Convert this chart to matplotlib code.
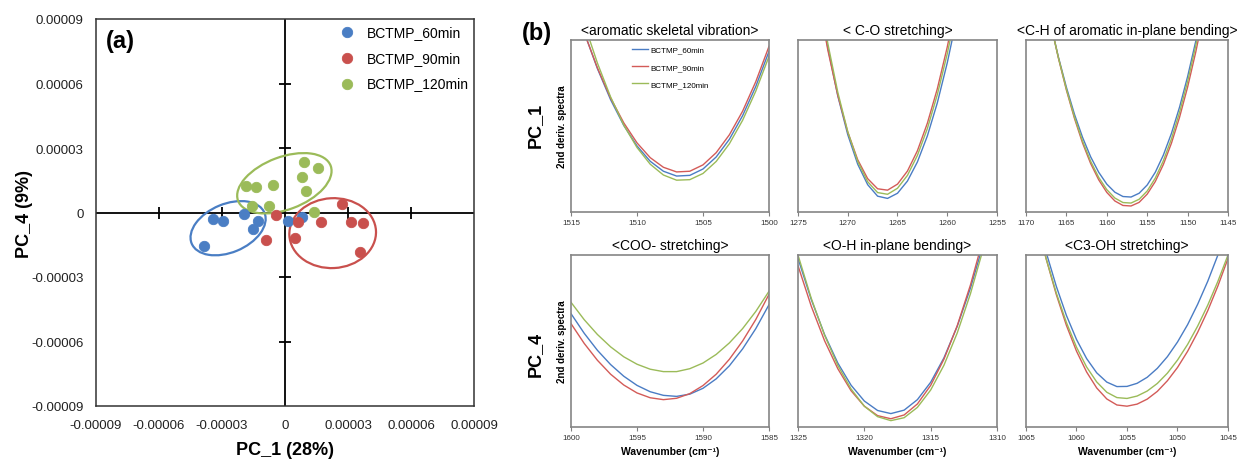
import numpy as np
import matplotlib
matplotlib.use('Agg')
import matplotlib.pyplot as plt
from matplotlib.patches import Ellipse

plt.rcParams['font.family'] = ['Liberation Sans', 'DejaVu Sans']

# ---- panel (a): PCA scores (units of 1e-5) ----
groups = ['BCTMP_60min', 'BCTMP_90min', 'BCTMP_120min']
blue_x = [-3.84, -3.41, -2.97, -1.94, -1.29, -1.51, 0.13, 0.79]
blue_y = [-1.55, -0.28, -0.39, -0.08, -0.40, -0.77, -0.39, -0.22]
red_x = [-0.43, -0.90, 0.60, 0.48, 1.71, 2.70, 3.14, 3.73, 3.57]
red_y = [-0.11, -1.27, -0.46, -1.19, -0.45, 0.40, -0.45, -0.50, -1.84]
green_x = [-1.86, -1.38, -0.56, -1.59, -0.75, 0.90, 1.59, 0.83, 0.98, 1.38]
green_y = [1.25, 1.18, 1.29, 0.28, 0.28, 2.37, 2.09, 1.67, 1.01, 0.02]
pca_ticks = [-9, -6, -3, 0, 3, 6, 9]
pca_ticklabels = ['-0.00009', '-0.00006', '-0.00003', '0', '0.00003', '0.00006', '0.00009']

# ---- panel (b): 2nd derivative spectra (relative height, 0-100) ----
aro_wn = [1514, 1513, 1512, 1511, 1510, 1509, 1508, 1507, 1506, 1505, 1504, 1503, 1502, 1501, 1500]
aro_60 = [104.5, 83.4, 65.3, 50.3, 38.4, 29.5, 23.7, 20.9, 21.3, 25.0, 32.0, 42.3, 56.0, 73.0, 93.4]
aro_90 = [104.3, 83.8, 66.3, 51.8, 40.2, 31.6, 26.0, 23.3, 23.7, 27.4, 34.5, 44.9, 58.6, 75.8, 96.3]
aro_120 = [109.6, 86.6, 66.9, 50.5, 37.5, 27.8, 21.5, 18.5, 18.8, 22.4, 29.4, 39.7, 53.3, 70.3, 90.5]

co_wn = [1273, 1272, 1271, 1270, 1269, 1268, 1267, 1266, 1265, 1264, 1263, 1262, 1261, 1260, 1259]
co_60 = [128.5, 95.4, 67.5, 45.0, 27.8, 15.9, 9.2, 7.9, 10.9, 18.0, 29.1, 44.2, 63.4, 86.7, 113.9]
co_90 = [125.6, 94.1, 67.8, 46.5, 30.4, 19.4, 13.5, 12.7, 16.2, 23.8, 35.6, 51.6, 71.6, 95.9, 124.2]
co_120 = [131.7, 97.9, 69.6, 46.7, 29.4, 17.6, 11.3, 10.3, 13.8, 21.3, 32.9, 48.5, 68.2, 92.0, 119.8]

ch_wn = [1167, 1166, 1165, 1164, 1163, 1162, 1161, 1160, 1159, 1158,
         1157, 1156, 1155, 1154, 1153, 1152, 1151, 1150, 1149, 1148]
ch_60 = [110.3, 90.3, 72.5, 56.8, 43.4, 32.1, 23.1, 16.2, 11.5, 9.0,
         8.7, 10.9, 15.7, 23.1, 33.1, 45.7, 60.9, 78.7, 99.1, 122.1]
ch_90 = [110.8, 89.7, 70.9, 54.4, 40.1, 28.2, 18.7, 11.4, 6.4, 3.8,
         3.5, 5.6, 10.4, 17.7, 27.6, 40.0, 55.0, 72.6, 92.8, 115.5]
ch_120 = [110.7, 89.9, 71.4, 55.2, 41.2, 29.5, 20.1, 13.0, 8.1, 5.5,
          5.2, 7.4, 12.2, 19.7, 29.8, 42.5, 57.9, 75.8, 96.4, 119.7]

coo_wn = [1600, 1599, 1598, 1597, 1596, 1595, 1594, 1593, 1592, 1591, 1590, 1589, 1588, 1587, 1586, 1585]
coo_60 = [65.9, 54.5, 44.6, 36.3, 29.5, 24.2, 20.5, 18.4, 17.8, 19.1, 22.5, 28.0, 35.6, 45.4, 57.2, 71.1]
coo_90 = [60.1, 48.6, 38.8, 30.7, 24.4, 19.8, 17.0, 15.9, 16.7, 19.4, 24.1, 30.7, 39.4, 50.0, 62.5, 77.1]
coo_120 = [72.5, 62.4, 53.8, 46.6, 40.8, 36.5, 33.6, 32.2, 32.2, 33.9, 37.2, 42.2, 48.9, 57.2, 67.2, 78.9]

oh_wn = [1325, 1324, 1323, 1322, 1321, 1320, 1319, 1318, 1317, 1316, 1315, 1314, 1313, 1312, 1311]
oh_60 = [98.0, 74.1, 53.8, 37.2, 24.3, 15.1, 9.6, 7.8, 9.8, 15.9, 26.0, 40.2, 58.5, 80.8, 107.2]
oh_90 = [93.8, 70.2, 50.2, 33.9, 21.1, 12.1, 6.6, 4.8, 7.0, 13.4, 24.2, 39.4, 58.8, 82.6, 110.6]
oh_120 = [100.0, 74.8, 53.4, 35.8, 22.1, 12.1, 6.0, 3.7, 5.4, 11.4, 21.5, 35.9, 54.6, 77.5, 104.6]

c3_wn = [1064, 1063, 1062, 1061, 1060, 1059, 1058, 1057, 1056, 1055,
         1054, 1053, 1052, 1051, 1050, 1049, 1048, 1047, 1046, 1045]
c3_60 = [124.1, 101.5, 81.8, 64.9, 50.9, 39.8, 31.5, 26.1, 23.5, 23.6,
         25.4, 28.9, 34.1, 40.9, 49.4, 59.5, 71.4, 84.8, 100.0, 116.8]
c3_90 = [121.4, 97.7, 77.0, 59.1, 44.1, 32.0, 22.7, 16.3, 12.8, 12.1,
         13.3, 16.2, 20.7, 26.9, 34.6, 44.0, 55.1, 67.7, 82.0, 98.0]
c3_120 = [120.5, 97.8, 77.9, 60.8, 46.4, 34.9, 26.2, 20.2, 17.1, 16.6,
          18.0, 20.9, 25.3, 31.3, 38.9, 48.0, 58.7, 70.9, 84.7, 100.0]

titles = ['<aromatic skeletal vibration>', '< C-O stretching>', '<C-H of aromatic in-plane bending>',
          '<COO- stretching>', '<O-H in-plane bending>', '<C3-OH stretching>']
wn_ranges = [(1515, 1500), (1275, 1255), (1170, 1145), (1600, 1585), (1325, 1310), (1065, 1045)]
spectra = [(aro_wn, aro_60, aro_90, aro_120), (co_wn, co_60, co_90, co_120),
           (ch_wn, ch_60, ch_90, ch_120), (coo_wn, coo_60, coo_90, coo_120),
           (oh_wn, oh_60, oh_90, oh_120), (c3_wn, c3_60, c3_90, c3_120)]

W, H = 1238, 460
dot_colors = ['#4A7EC4', '#C9504D', '#9BBB59']
line_colors = ['#4A7CC4', '#D35B58', '#9BBB59']


def box(l, t, r, b):
    return [l / W, 1 - b / H, (r - l) / W, (b - t) / H]


fig = plt.figure(figsize=(W / 100, H / 100), dpi=100)

# ---------------- (a) ----------------
ax = fig.add_axes(box(96, 20, 474, 407))
ax.set_xlim(-9, 9)
ax.set_ylim(-9, 9)
ax.axhline(0, color='k', lw=1.3, zorder=1)
ax.axvline(0, color='k', lw=1.3, zorder=1)
inner = [t for t in pca_ticks if t not in (0, -9, 9)]
ax.plot(inner, [0] * len(inner), ls='none', marker='|', ms=9, mew=1.3, color='k', zorder=1)
ax.plot([0] * len(inner), inner, ls='none', marker='_', ms=9, mew=1.3, color='k', zorder=1)

ellipses = [((-2.71, -0.73), 3.75, 2.26, 22), ((2.27, -0.96), 4.13, 3.25, 3), ((-0.03, 1.36), 4.70, 2.45, 20)]
for (c, w, h, ang), col in zip(ellipses, dot_colors):
    ax.add_patch(Ellipse(c, w, h, angle=ang, fill=False, ec=col, lw=1.6, zorder=2))

for xs, ys, col, lab in zip([blue_x, red_x, green_x], [blue_y, red_y, green_y], dot_colors, groups):
    ax.scatter(xs, ys, s=56, color=col, edgecolors=col, linewidths=0.6, label=lab, zorder=3)

ax.set_xticks(pca_ticks)
ax.set_xticklabels(pca_ticklabels)
ax.set_yticks(pca_ticks)
ax.set_yticklabels(pca_ticklabels)
ax.tick_params(length=0, labelsize=9.5, colors='#222222')
ax.tick_params(axis='x', pad=9.5)
ax.tick_params(axis='y', pad=9)
for sp in ax.spines.values():
    sp.set_color('#333333')
    sp.set_linewidth(1.1)
ax.set_xlabel('PC_1 (28%)', fontsize=13, fontweight='bold', labelpad=7)
ax.set_ylabel('PC_4 (9%)', fontsize=13, fontweight='bold', labelpad=-1)
ax.text(0.026, 0.975, '(a)', transform=ax.transAxes, fontsize=17, fontweight='bold', va='top', ha='left')
ax.legend(loc='upper right', bbox_to_anchor=(1.012, 1.01), frameon=False, fontsize=10,
          handletextpad=0.4, labelspacing=0.85, borderaxespad=0.3, scatterpoints=1)

# ---------------- (b) ----------------
cols = [(571, 769), (798, 997), (1026, 1228)]
rows = [(41, 213), (256, 428)]
for i in range(6):
    r, c = divmod(i, 3)
    bx = fig.add_axes(box(cols[c][0], rows[r][0], cols[c][1], rows[r][1]))
    wn, s60, s90, s120 = spectra[i]
    for ys, col, lab in zip([s60, s90, s120], line_colors, groups):
        bx.plot(wn, ys, color=col, lw=1.0, label=lab)
    lo, hi = wn_ranges[i]
    bx.set_xlim(lo, hi)
    bx.set_ylim(0, 100)
    bx.set_xticks(np.arange(hi, lo + 1, 5))
    bx.set_yticks([])
    bx.tick_params(axis='x', direction='out', length=3, width=0.8, color='#808080',
                   labelsize=5.8, labelcolor='#333333', pad=2)
    for sp in bx.spines.values():
        sp.set_color('#858585')
        sp.set_linewidth(1.2)
    bx.set_title(titles[i], fontsize=10, pad=4)
    if c == 0:
        bx.set_ylabel('2nd deriv. spectra', fontsize=7, fontweight='bold', labelpad=3)
    if r == 1:
        bx.set_xlabel('Wavenumber (cm⁻¹)', fontsize=7.5, fontweight='bold', labelpad=4)
    if i == 0:
        bx.legend(loc='upper left', bbox_to_anchor=(0.31, 0.965), frameon=False, fontsize=5.8,
                  handlelength=2.0, handletextpad=0.2, labelspacing=1.2, borderpad=0, borderaxespad=0)

fig.text(522 / W, 1 - 22 / H, '(b)', fontsize=17, fontweight='bold', va='top', ha='left')
fig.text(535 / W, 1 - 125 / H, 'PC_1', fontsize=13, fontweight='bold', rotation=90, ha='center', va='center')
fig.text(535 / W, 1 - 354 / H, 'PC_4', fontsize=13, fontweight='bold', rotation=90, ha='center', va='center')

fig.savefig('out.png', dpi=100)
